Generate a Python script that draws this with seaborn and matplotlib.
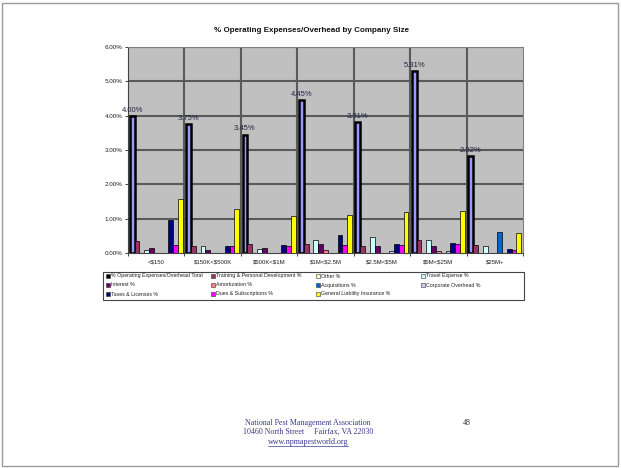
import matplotlib
matplotlib.use("Agg")
import matplotlib.pyplot as plt
from matplotlib.patches import Rectangle
import seaborn as sns
import pandas as pd

sizes = ["<$150", "$150K<$500K", "$500K<$1M", "$1M<$2.5M", "$2.5M<$5M", "$5M<$25M", "$25M+"]

series_names = [
    "% Operating Expenses/Overhead Total",
    "Training & Personal Development %",
    "Other %",
    "Travel Expense %",
    "Interest %",
    "Amortization %",
    "Acquisitions %",
    "Corporate Overhead %",
    "Taxes & Licenses %",
    "Dues & Subscriptions %",
    "General Liability Insurance %",
]

series_colors = ["#9999FF", "#993366", "#FFFFCC", "#CCFFFF", "#660066", "#FF8080",
                 "#0066CC", "#CCCCFF", "#000080", "#FF00FF", "#FFFF00"]

# values in percent, one list per series (in the order of `sizes`)
total_pct = [4.00, 3.75, 3.45, 4.45, 3.81, 5.31, 2.82]
training_pct = [0.35, 0.21, 0.27, 0.25, 0.20, 0.39, 0.22]
other_pct = [0.00, 0.00, 0.00, 0.00, 0.00, 0.00, 0.00]
travel_pct = [0.08, 0.20, 0.12, 0.38, 0.47, 0.39, 0.21]
interest_pct = [0.15, 0.08, 0.15, 0.27, 0.20, 0.20, 0.00]
amortization_pct = [0.00, 0.00, 0.00, 0.10, 0.00, 0.07, 0.00]
acquisitions_pct = [0.00, 0.00, 0.00, 0.00, 0.00, 0.00, 0.61]
corporate_pct = [0.00, 0.00, 0.00, 0.00, 0.06, 0.06, 0.00]
taxes_pct = [0.95, 0.20, 0.22, 0.52, 0.27, 0.29, 0.12]
dues_pct = [0.22, 0.20, 0.20, 0.22, 0.24, 0.26, 0.08]
liability_pct = [1.58, 1.27, 1.09, 1.10, 1.20, 1.22, 0.57]

series_values = [total_pct, training_pct, other_pct, travel_pct, interest_pct,
                 amortization_pct, acquisitions_pct, corporate_pct, taxes_pct,
                 dues_pct, liability_pct]

rows = []
for name, vals in zip(series_names, series_values):
    for size, v in zip(sizes, vals):
        rows.append({"size": size, "series": name, "value": v})
df = pd.DataFrame(rows)

sns.set_theme(style="white")
plt.rcParams["font.family"] = ["Liberation Sans", "DejaVu Sans"]

W, H = 621, 468
fig = plt.figure(figsize=(W / 100, H / 100), dpi=100)
fig.patch.set_facecolor("white")


def fx(px):
    return px / W


def fy(py):
    return 1 - py / H


# page frame
fig.add_artist(Rectangle((2 / W, 2 / H), (W - 5) / W, (H - 5) / H,
                         transform=fig.transFigure, fill=False,
                         edgecolor="#9a9a9a", linewidth=1.0))

left, right, top, bottom = 128, 523, 47, 253
ax = fig.add_axes([fx(left), fy(bottom), (right - left) / W, (bottom - top) / H])
ax.set_facecolor("#C0C0C0")

sns.barplot(data=df, x="size", y="value", hue="series", order=sizes,
            hue_order=series_names, palette=series_colors, saturation=1,
            width=0.94, edgecolor="black", linewidth=0.5, legend=False,
            errorbar=None, ax=ax, zorder=3)

for i, cont in enumerate(ax.containers):
    for bar in cont:
        if bar.get_height() <= 0:
            bar.set_visible(False)
        elif i == 0:
            bar.set_linewidth(1.8)

ax.bar_label(ax.containers[0], labels=[f"{v:.2f}%" for v in total_pct],
             fontsize=5.5, color="#222244", padding=1.5)

ax.set_ylim(0, 6)
ax.set_yticks(range(0, 7))
ax.set_yticklabels([f"{v:.2f}%" for v in range(0, 7)], fontsize=4.5, color="#222222")
ax.set_xlim(-0.5, len(sizes) - 0.5)
ax.set_xticks(range(len(sizes)))
ax.set_xticklabels([s.replace("$", r"\$") for s in sizes])
ax.tick_params(axis="x", labelsize=4.3, colors="#222222", length=0, pad=5)
ax.tick_params(axis="y", length=2, width=0.6, pad=2, left=True)
ax.set_xlabel("")
ax.set_ylabel("")

# horizontal gridlines and category separators
for y in range(1, 7):
    ax.axhline(y, color="#5a5a5a", linewidth=1.5, zorder=1)
for k in range(1, len(sizes)):
    ax.axvline(k - 0.5, color="#5a5a5a", linewidth=1.5, zorder=1)
ax.set_xticks([k - 0.5 for k in range(len(sizes) + 1)], minor=True)
ax.tick_params(axis="x", which="minor", length=2, width=0.6, bottom=True)

for side, sp in ax.spines.items():
    sp.set_color("#808080")
    sp.set_linewidth(0.8)
ax.spines["left"].set_color("#444444")
ax.spines["bottom"].set_color("#444444")

fig.text(fx(312), fy(30), "% Operating Expenses/Overhead by Company Size",
         ha="center", va="center", fontsize=5.8, fontweight="bold", color="#111111")

# legend: four fixed-width columns filled row by row
leg_l, leg_t, leg_r, leg_b = 103, 272, 524, 300
fig.add_artist(Rectangle((fx(leg_l), fy(leg_b)), (leg_r - leg_l) / W, (leg_b - leg_t) / H,
                         transform=fig.transFigure, facecolor="white",
                         edgecolor="#444444", linewidth=0.8))
col_x = [106, 211, 316, 421]
row_y = [276, 285, 294]
box = 3.6
for i, (name, col) in enumerate(zip(series_names, series_colors)):
    r, c = divmod(i, 4)
    x0, yc = col_x[c], row_y[r]
    fig.add_artist(Rectangle((fx(x0), fy(yc + box / 2)), box / W, box / H,
                             transform=fig.transFigure,
                             facecolor="black" if i == 0 else col,
                             edgecolor="#333333", linewidth=0.4))
    fig.text(fx(x0 + box + 1.2), fy(yc), name, ha="left", va="center",
             fontsize=3.8, color="#222222")

footer_color = "#3b3b8f"
fig.text(fx(308), fy(423), "National Pest Management Association",
         ha="center", va="center", fontsize=5.8, family="Liberation Serif", color=footer_color)
fig.text(fx(308), fy(432), "10460 North Street     Fairfax, VA 22030",
         ha="center", va="center", fontsize=5.8, family="Liberation Serif", color=footer_color)
url = fig.text(fx(308), fy(442), "www.npmapestworld.org",
               ha="center", va="center", fontsize=5.8, family="Liberation Serif",
               color=footer_color)
fig.canvas.draw()
bb = url.get_window_extent()
fig.add_artist(plt.Line2D([bb.x0 / W, bb.x1 / W], [(bb.y0 + 0.3) / H, (bb.y0 + 0.3) / H],
                          transform=fig.transFigure, color=footer_color, linewidth=0.5))
fig.text(fx(467), fy(423), "48", ha="center", va="center", fontsize=5.8,
         family="Liberation Serif", color="#333333")

fig.savefig("out.png", dpi=100, facecolor="white")
